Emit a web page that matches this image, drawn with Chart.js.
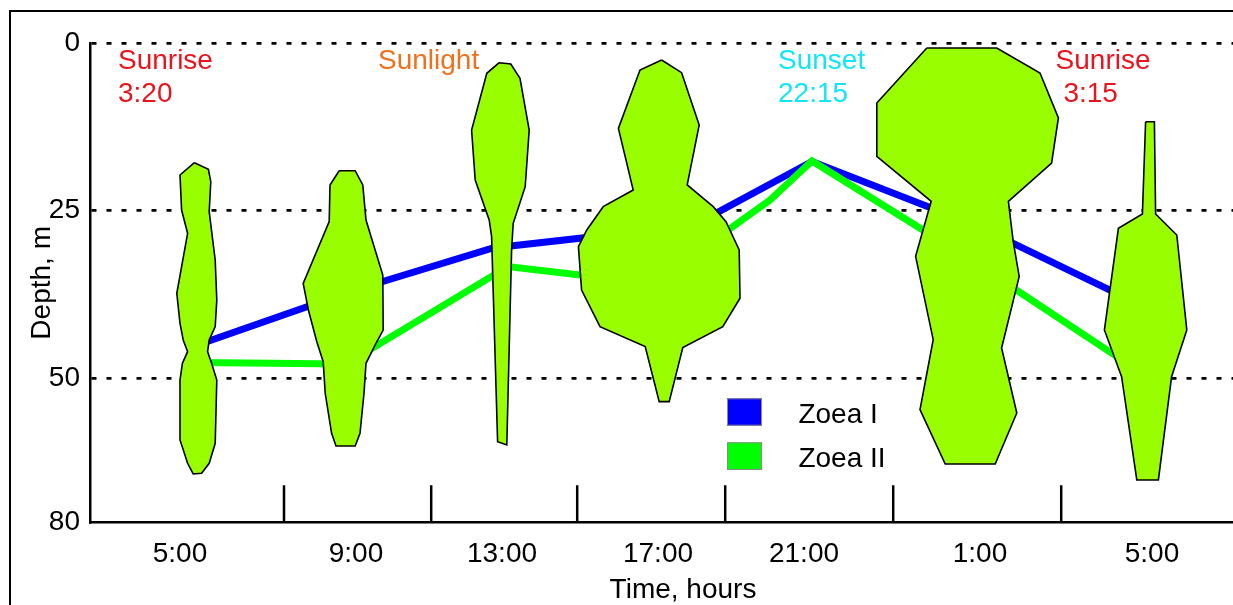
<!DOCTYPE html>
<html><head><meta charset="utf-8">
<script src="https://cdn.jsdelivr.net/npm/chart.js@4.4.1/dist/chart.umd.min.js"></script>
<style>
html,body{margin:0;padding:0;overflow:hidden;background:#fff;width:1233px;height:605px;}
#wrap{position:absolute;left:0;top:0;width:1276px;height:605px;}
#frame{position:absolute;left:9px;top:10px;width:1400px;height:700px;border-left:2px solid #000;border-top:2px solid #000;pointer-events:none;}
</style></head><body>
<div id="wrap"><canvas id="c"></canvas></div>
<div id="frame"></div>
<script>
// ---------- data ----------
const timeTickLabels = ['5:00','9:00','13:00','17:00','21:00','1:00','5:00'];
const timeTickHours  = [5.0, 9.4, 13.05, 16.95, 20.6, 25.0, 29.3];
const separatorHours = [7.6, 11.28, 14.93, 18.63, 22.83, 27.03];
const depthTickValues = [0, 25, 50, 71.6];
const depthTickLabels = ['0','25','50','80'];
const seriesNames = ['Zoea I','Zoea II'];

// mean depth of each stage (hour, depth m)
const zoeaI  = [[5.4,45.16],[9.375,36.87],[12.825,30.6],[17.825,27.24],[20.8,17.69],[24.875,27.16],[29.0,39.04]];
const zoeaII = [[5.4,47.69],[9.15,47.91],[13.2,33.36],[16.825,35.9],[19.75,23.43],[20.8,17.61],[24.7,32.09],[29.0,49.1]];

// vertical distribution outlines (hour, depth m)
const violin1 = [[5.36,17.87],[5.71,18.85],[5.77,20.70],[5.73,25.18],[5.88,32.39],[5.92,38.36],[5.88,42.34],[5.73,44.33],[5.69,46.07],[5.79,47.81],[5.92,50.30],[5.88,59.75],[5.73,62.73],[5.54,64.22],[5.33,64.33],[5.19,62.73],[5.00,59.25],[5.00,50.30],[5.06,47.81],[5.19,46.07],[5.08,44.33],[5.00,41.84],[4.92,37.36],[5.19,28.40],[5.04,24.93],[5.00,19.70]];
const violin2 = [[8.98,19.06],[9.38,19.06],[9.57,21.19],[9.65,26.42],[10.07,34.63],[10.08,42.84],[9.88,45.07],[9.65,47.81],[9.60,52.28],[9.50,58.25],[9.38,60.15],[8.90,60.15],[8.79,58.25],[8.63,52.28],[8.58,47.57],[8.42,44.58],[8.21,39.85],[8.08,35.87],[8.73,26.67],[8.75,21.19]];
const violin3 = [[12.98,2.94],[13.27,3.13],[13.50,5.27],[13.73,12.99],[13.63,21.45],[13.33,26.91],[13.29,30.90],[13.17,60.00],[12.94,59.50],[12.79,28.90],[12.73,26.42],[12.38,20.45],[12.29,12.99],[12.67,4.52]];
const violin4 = [[17.04,2.54],[17.54,4.43],[17.98,12.24],[17.68,21.19],[18.33,24.43],[18.65,26.67],[18.98,30.90],[19.00,38.10],[18.57,42.34],[17.57,45.47],[17.23,53.53],[16.98,53.53],[16.63,45.32],[15.50,42.34],[15.04,36.87],[14.96,30.40],[15.17,27.91],[15.58,24.43],[16.33,21.94],[15.96,12.74],[16.50,4.03]];
const violin5 = [[23.67,0.75],[25.42,0.75],[26.50,4.48],[26.96,11.19],[26.79,17.91],[25.71,23.63],[25.83,29.60],[25.98,34.83],[25.54,45.52],[25.92,55.22],[25.38,62.84],[24.13,62.84],[23.50,54.73],[23.83,44.28],[23.39,31.84],[23.78,23.63],[22.42,16.91],[22.42,8.96]];
const violin6 = [[29.14,11.75],[29.36,11.75],[29.39,25.52],[29.92,28.66],[30.17,42.84],[29.79,49.81],[29.46,65.22],[28.92,65.22],[28.54,49.81],[28.11,42.84],[28.46,27.66],[29.06,25.52]];
const violins = [violin1, violin2, violin3, violin4, violin5, violin6];

const noteLines  = [['Sunrise','3:20'],['Sunlight'],['Sunset','22:15'],['Sunrise',' 3:15']];
const noteHours  = [3.45, 9.95, 19.95, 26.89];
const noteColors = ['#e8141e','#f0701e','#12e6f6','#e8141e'];

// ---------- chart ----------
const FONT = "'Liberation Sans', Arial, Helvetica, sans-serif";
Chart.defaults.font.family = FONT;
Chart.defaults.color = '#000';

const toXY = pts => pts.map(([x,y]) => ({x, y}));
const datasets = [];
violins.forEach((v, i) => datasets.push({
  label: 'dist' + i, data: toXY(v.concat([v[0]])),
  borderColor: '#000', borderWidth: 1.6, backgroundColor: '#99ff00',
  fill: 'shape', pointRadius: 0, tension: 0, order: 0, borderJoinStyle: 'miter'
}));
datasets.push({label: seriesNames[1], data: toXY(zoeaII), borderColor: '#00ff00', backgroundColor:'#00ff00',
  borderWidth: 7, fill: false, pointRadius: 0, tension: 0, order: 1, borderJoinStyle: 'miter'});
datasets.push({label: seriesNames[0], data: toXY(zoeaI), borderColor: '#0000ff', backgroundColor:'#0000ff',
  borderWidth: 7, fill: false, pointRadius: 0, tension: 0, order: 2, borderJoinStyle: 'miter'});
separatorHours.forEach(h => datasets.push({label: 'sep', data: [{x:h, y:66}, {x:h, y:depthTickValues[3]}],
  borderColor: '#000', borderWidth: 2.5, pointRadius: 0, fill: false, order: 3}));

const overlay = {
  id: 'overlay',
  afterDatasetsDraw(chart) {
    const {ctx, scales: {x, y}} = chart;
    ctx.save();
    ctx.font = '28px ' + FONT;
    ctx.textAlign = 'left';
    ctx.textBaseline = 'alphabetic';
    const baselines = [3.88, 8.76];
    noteLines.forEach((lines, i) => {
      ctx.fillStyle = noteColors[i];
      lines.forEach((t, k) => ctx.fillText(t, x.getPixelForValue(noteHours[i]), y.getPixelForValue(baselines[k])));
    });
    // legend
    const items = [
      {name: seriesNames[0], color: '#0000ff', top: 53.03, bottom: 57.12, base: 56.72},
      {name: seriesNames[1], color: '#00ff00', top: 59.6, bottom: 63.73, base: 63.24}
    ];
    items.forEach(it => {
      const x0 = x.getPixelForValue(18.675), x1 = x.getPixelForValue(19.55);
      const y0 = y.getPixelForValue(it.top), y1 = y.getPixelForValue(it.bottom);
      ctx.fillStyle = it.color;
      ctx.fillRect(x0, y0, x1 - x0, y1 - y0);
      ctx.strokeStyle = '#8a8a8a'; ctx.lineWidth = 1;
      ctx.strokeRect(x0 + 0.5, y0 + 0.5, x1 - x0 - 1, y1 - y0 - 1);
      ctx.fillStyle = '#000';
      ctx.fillText(it.name, x.getPixelForValue(20.46), y.getPixelForValue(it.base));
    });
    ctx.restore();
  }
};

new Chart(document.getElementById('c'), {
  type: 'line',
  data: {datasets},
  options: {
    responsive: true, maintainAspectRatio: false, animation: false, events: [],
    layout: {padding: {left: 10, top: 43, right: 0, bottom: 0}},
    plugins: {legend: {display: false}, tooltip: {enabled: false}},
    scales: {
      x: {
        type: 'linear', min: 2.75, max: 32.4,
        afterBuildTicks: s => { s.ticks = timeTickHours.map(v => ({value: v})); },
        afterFit: s => { s.height = 82.3; },
        ticks: {callback: (v, i) => timeTickLabels[i], font: {size: 28}, color: '#000', padding: 15, maxRotation: 0, autoSkip: false},
        grid: {display: false, drawTicks: false},
        border: {display: true, color: '#000', width: 2.5},
        title: {display: true, text: 'Time, hours', font: {size: 28}, color: '#000', padding: {top: 0, bottom: -2}}
      },
      y: {
        type: 'linear', reverse: true, min: 0, max: depthTickValues[3],
        afterBuildTicks: s => { s.ticks = depthTickValues.map(v => ({value: v})); },
        afterFit: s => { s.width = 80; },
        ticks: {callback: (v, i) => depthTickLabels[i], font: {size: 28}, color: '#000', padding: 10, autoSkip: false},
        grid: {display: true, drawTicks: false, color: '#000', lineWidth: c => (c.index === 3 ? 0 : 2.8)},
        border: {display: true, color: '#000', width: 2.5, dash: [5, 10]},
        title: {display: true, text: 'Depth, m', font: {size: 28}, color: '#000', padding: {top: 15, bottom: 0}}
      }
    }
  },
  plugins: [overlay]
});
</script></body></html>
